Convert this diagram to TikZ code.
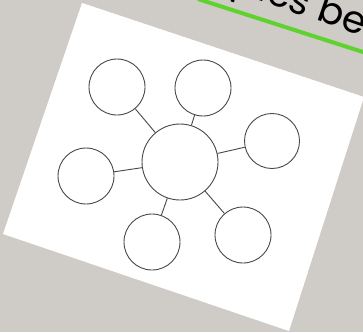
\documentclass[tikz,border=0pt]{standalone}
\usepackage{fontspec}
\newfontfamily\handfont{Poppins}
\definecolor{bgcol}{RGB}{207,204,200}
\definecolor{inkcol}{RGB}{72,72,72}
\definecolor{greencol}{RGB}{96,210,48}
\tikzset{
  bubble/.style={circle, draw=inkcol, line width=0.9pt, fill=white, inner sep=0pt},
  link/.style={draw=inkcol, line width=0.9pt}
}
\begin{document}
\begin{tikzpicture}[x=1pt,y=-1pt]
  \fill[bgcol] (0,0) rectangle (363,332);
  \useasboundingbox (0,0) rectangle (363,332);
  \begin{scope}
    \clip (0,0) rectangle (363,332);
    % paper
    \fill[white] (82,3) -- (364,97) -- (289,331) -- (3,234) -- cycle;
    % green underline and text
    \draw[greencol, line width=4pt] (198,-1) -- (366,53);
    \node[anchor=base east, rotate=-19, inner sep=0pt, font=\handfont\fontsize{38}{42}\selectfont, text=black] (title) at (362,36) {pics be};
  \end{scope}
  % bubbles
  \node[bubble, minimum size=76pt] (c) at (180,162) {};
  \node[bubble, minimum size=56pt] (tl) at (117,87) {};
  \node[bubble, minimum size=56pt] (tr) at (203,88) {};
  \node[bubble, minimum size=55pt] (r) at (272,141) {};
  \node[bubble, minimum size=56pt] (l) at (86,176) {};
  \node[bubble, minimum size=56pt] (b) at (152,242) {};
  \node[bubble, minimum size=56pt] (br) at (243,235) {};
  \foreach \n in {tl,tr,r,l,b,br}{
    \draw[link] (c) -- (\n);
  }
\end{tikzpicture}
\end{document}
